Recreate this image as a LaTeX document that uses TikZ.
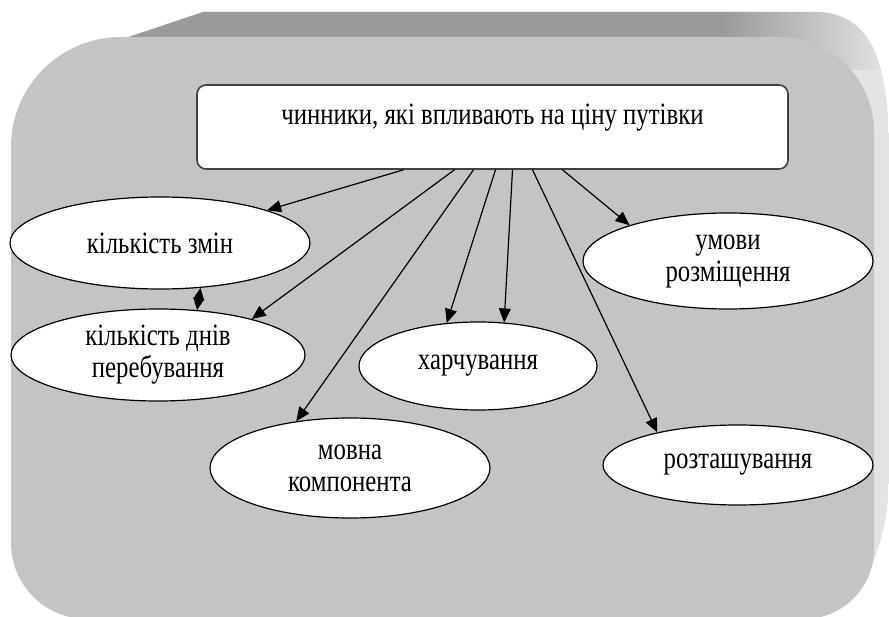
\documentclass[tikz,border=0pt]{standalone}
\usepackage{fontspec}
\setmainfont{Liberation Serif}[FakeStretch=0.8]
\usetikzlibrary{shapes.geometric,arrows.meta}

\definecolor{faceGray}{HTML}{C4C4C4}
\definecolor{bevelDark}{HTML}{999999}
\definecolor{bevelLight}{HTML}{E4E4E4}

\begin{document}
\begin{tikzpicture}[x=1pt,y=-1pt,
    factor/.style={ellipse,draw=black,line width=1.2pt,fill=white,
      inner sep=0pt,align=center,font=\fontsize{31}{32}\selectfont},
    link/.style={line width=1.2pt,-{Triangle[length=14pt,width=12pt]}}]
    \useasboundingbox (0,0) rectangle (889,617);

    % Draw the raised back edge of the panel
    \begin{scope}
      \clip (60,60) -- (203,12) -- (815,12)
      .. controls (870,12) and (889,60) .. (889,150) -- (889,470)
      .. controls (889,520) and (880,545) .. (872,565) -- (500,400) -- cycle;
      \fill[bevelLight] (0,0) rectangle (889,617);
      \fill[bevelDark] (0,0) rectangle (720,70);
      \shade[left color=bevelDark,right color=bevelLight] (720,0) rectangle (889,70);
    \end{scope}

    % Draw the front face of the panel
    \fill[faceGray] (11,330) [rounded corners=110pt] -- (11,37) -- (450,37)
    [rounded corners=95pt] -- (874,37) -- (874,330)
    [rounded corners=70pt] -- (874,619) -- (450,619)
    [rounded corners=76pt] -- (11,619) -- cycle;

    % Draw the title box
    \node[draw=black!75,line width=1.6pt,fill=white,rounded corners=9pt,
      minimum width=591pt,minimum height=84pt,
      font=\fontsize{31}{32}\selectfont,text height=20pt,text depth=24pt]
      (factors) at (492.5,127) {чинники, які впливають на ціну путівки};

    % Draw the factors
    \node[factor,minimum width=300pt,minimum height=92pt] (shifts) at (160,243) {кількість змін};
    \node[factor,minimum width=294pt,minimum height=92pt] (days) at (158,355) {кількість днів\\перебування};
    \node[factor,minimum width=280pt,minimum height=100pt] (language) at (350,468) {мовна\\компонента};
    \node[factor,minimum width=238pt,minimum height=88pt] (meals) at (478,366) {харчування};
    \node[factor,minimum width=290pt,minimum height=96pt] (lodging) at (728,261) {умови\\розміщення};
    \node[factor,minimum width=270pt,minimum height=80pt] (location) at (738,465) {розташування};

    % Draw arrows from the title box
    \draw[link] ([xshift=-89pt]factors.south) -- (shifts.17);
    \draw[link] ([xshift=-38pt]factors.south) -- (days.21);
    \draw[link] ([xshift=-19pt]factors.south) -- (language.139);
    \draw[link] ([xshift=3pt]factors.south) -- (meals.126);
    \draw[link] ([xshift=20pt]factors.south) -- (meals.59);
    \draw[link] ([xshift=40pt]factors.south) -- (location.158);
    \draw[link] ([xshift=70pt]factors.south) -- (lodging.160);

    % Draw the link between shifts and days
    \draw[line width=1.2pt,{Triangle[length=12pt,width=11pt]}-{Triangle[length=12pt,width=11pt]}]
    (shifts.-48) -- (days.49);
\end{tikzpicture}
\end{document}
